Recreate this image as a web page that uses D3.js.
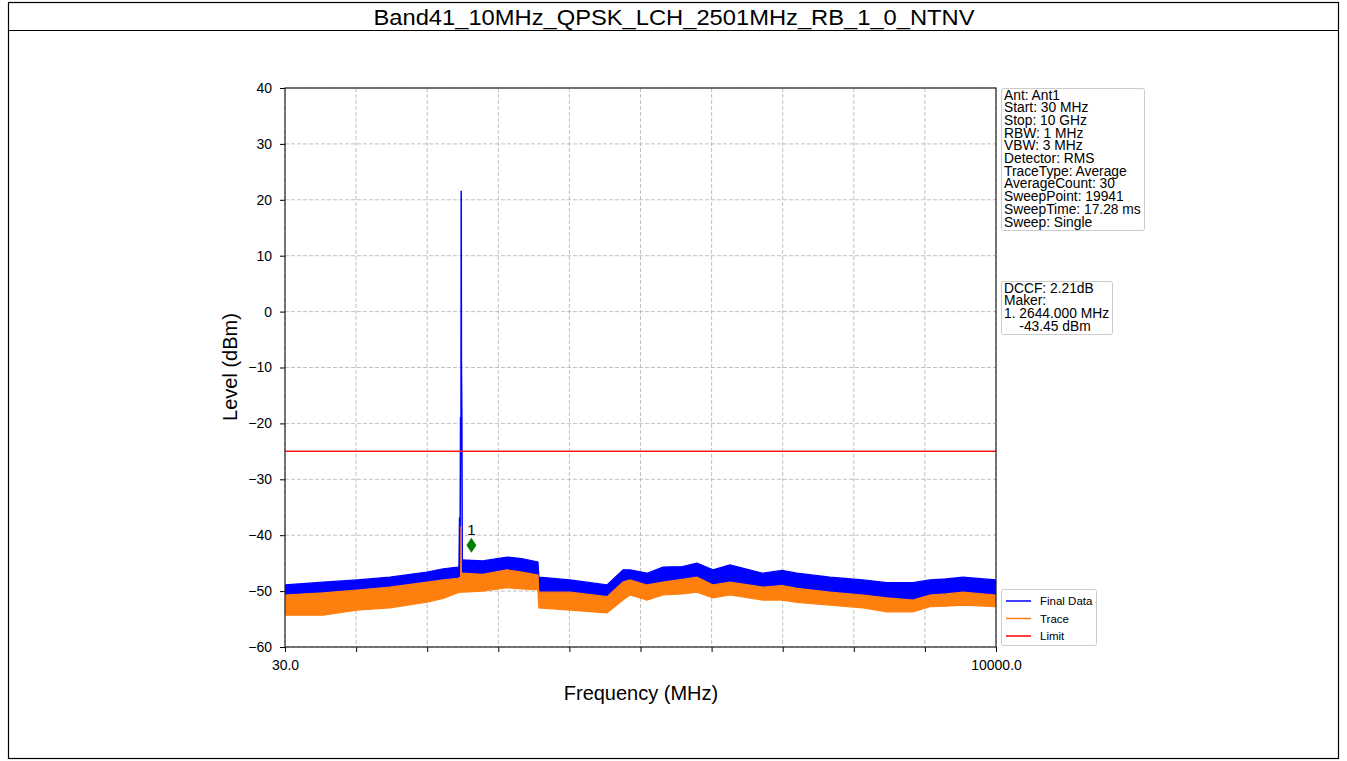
<!DOCTYPE html>
<html>
<head>
<meta charset="utf-8">
<script src="https://cdn.jsdelivr.net/npm/d3@7"></script>
<style>
  body { margin: 0; background: #fff; }
  svg { font-family: "Liberation Sans", Arial, sans-serif; }
</style>
</head>
<body>
<svg id="mainContainer"></svg>
<script>
/* global d3 */

var title = 'Band41_10MHz_QPSK_LCH_2501MHz_RB_1_0_NTNV';

// noise floor envelopes (MHz / dBm)
var freqs    = [30, 563, 1040, 1500, 2020, 2250, 2455, 2490, 2512, 2800, 3143, 3350, 3577, 3590, 4026, 4545, 4770, 4868, 5106, 5330, 5600, 5807, 6031, 6270, 6732, 7000, 7209, 7672, 8134, 8470, 8835, 9073, 9300, 9536, 10000];
var finalHi  = [-48.9, -48.4, -48.0, -47.5, -46.6, -46.0, -45.7, -45.5, -44.4, -44.6, -43.9, -44.2, -44.8, -47.5, -48.0, -48.9, -46.2, -46.2, -46.8, -45.7, -45.6, -45.0, -46.2, -45.3, -46.8, -46.3, -46.8, -47.5, -48.0, -48.5, -48.5, -48.0, -47.8, -47.5, -48.0];
var finalLo  = [-52.0, -51.6, -51.2, -50.6, -49.8, -49.2, -49.0, -48.8, -48.0, -48.2, -47.4, -47.8, -48.2, -51.4, -51.6, -52.2, -49.6, -49.2, -50.0, -49.6, -49.4, -48.8, -50.0, -49.6, -50.4, -50.2, -50.6, -51.4, -51.8, -52.4, -52.8, -51.8, -51.6, -51.4, -51.8];
var traceHi  = [-50.7, -50.3, -49.8, -49.3, -48.4, -48.0, -47.7, -47.5, -46.8, -47.0, -46.2, -46.6, -47.1, -50.2, -50.2, -51.0, -48.4, -48.0, -48.9, -48.4, -47.9, -47.5, -48.9, -48.4, -49.3, -49.0, -49.5, -50.2, -50.7, -51.2, -51.6, -50.7, -50.5, -50.2, -50.7];
var traceLo  = [-54.3, -54.3, -53.4, -53.0, -52.0, -51.3, -50.3, -50.2, -50.2, -50.0, -49.4, -49.6, -49.8, -53.0, -53.4, -53.9, -51.6, -50.7, -51.6, -50.7, -50.5, -50.2, -51.2, -50.7, -51.6, -51.6, -52.0, -52.5, -53.0, -53.7, -53.7, -52.8, -52.7, -52.5, -52.8];

// carrier spike around 2501 MHz
var spikeFreq  = [2470, 2478, 2484, 2492, 2498, 2501, 2504, 2510, 2516];
var spikeFinal = [-46.0, -36.8, -46.0, -19.0, -19.0, 21.6, -9.0, -19.0, -45.0];
var spikeTrace = [-48.0, -48.0, -48.0, -48.0, -38.5, -38.5, -47.0, -47.0, -47.0];

var limitLevel = -25;
var markerFreq = 2644;
var markerLevel = -41.8;

var yTicks = [-60, -50, -40, -30, -20, -10, 0, 10, 20, 30, 40];
var xTicks = [30, 1027, 2024, 3021, 4018, 5015, 6012, 7009, 8006, 9003, 10000];
var xTickLabels = ['30.0', '', '', '', '', '', '', '', '', '', '10000.0'];

var infoLines = ['Ant: Ant1', 'Start: 30 MHz', 'Stop: 10 GHz', 'RBW: 1 MHz', 'VBW: 3 MHz',
  'Detector: RMS', 'TraceType: Average', 'AverageCount: 30', 'SweepPoint: 19941',
  'SweepTime: 17.28 ms', 'Sweep: Single'];
var markerLines = ['DCCF: 2.21dB', 'Maker:', '1. 2644.000 MHz', '    -43.45 dBm'];
var legendNames = ['Final Data', 'Trace', 'Limit'];
var legendColors = ['#0000ff', '#ff7f0e', '#ff0000'];

var svgWidth = 1347;
var svgHeight = 761;
var plot = { left: 285, right: 996, top: 88, bottom: 647 };

var svg = d3.select('#mainContainer')
  .attr('width', svgWidth)
  .attr('height', svgHeight);

// outer frame + title bar
svg.append('rect').attr('x', 8.5).attr('y', 2.5).attr('width', 1330).attr('height', 756)
  .attr('fill', 'none').attr('stroke', '#000').attr('stroke-width', 1.2);
svg.append('line').attr('x1', 8.5).attr('x2', 1338.5).attr('y1', 30.5).attr('y2', 30.5)
  .attr('stroke', '#000').attr('stroke-width', 1.2);
svg.append('text').attr('x', 674).attr('y', 25).attr('text-anchor', 'middle')
  .attr('font-size', 22).attr('textLength', 601).attr('lengthAdjust', 'spacingAndGlyphs')
  .text(title);

var x = d3.scaleLinear().domain([30, 10000]).range([plot.left, plot.right]);
var y = d3.scaleLinear().domain([-60, 40]).range([plot.bottom, plot.top]);

var g = svg.append('g');

// grid
g.selectAll('.vgrid').data(xTicks).enter().append('line')
  .attr('x1', function(d){ return x(d); }).attr('x2', function(d){ return x(d); })
  .attr('y1', plot.top).attr('y2', plot.bottom)
  .attr('stroke', '#b0b0b0').attr('stroke-width', 0.8).attr('stroke-dasharray', '4,2');
g.selectAll('.hgrid').data(yTicks).enter().append('line')
  .attr('x1', plot.left).attr('x2', plot.right)
  .attr('y1', function(d){ return y(d); }).attr('y2', function(d){ return y(d); })
  .attr('stroke', '#b0b0b0').attr('stroke-width', 0.8).attr('stroke-dasharray', '4,2');

var pts = freqs.map(function(f, i){
  return { f: f, fh: finalHi[i], fl: finalLo[i], th: traceHi[i], tl: traceLo[i] };
});

var finalArea = d3.area().x(function(d){ return x(d.f); })
  .y0(function(d){ return y(d.fl); }).y1(function(d){ return y(d.fh); });
var traceArea = d3.area().x(function(d){ return x(d.f); })
  .y0(function(d){ return y(d.tl); }).y1(function(d){ return y(d.th); });

svg.append('clipPath').attr('id', 'clip').append('rect')
  .attr('x', plot.left).attr('y', plot.top)
  .attr('width', plot.right - plot.left).attr('height', plot.bottom - plot.top);

var data = g.append('g').attr('clip-path', 'url(#clip)');

data.append('path').datum(pts).attr('d', finalArea)
  .attr('fill', '#0000ff').attr('stroke', '#0000ff').attr('stroke-width', 1.2);

var spikeLine = d3.line().x(function(d){ return x(d[0]); }).y(function(d){ return y(d[1]); });
data.append('path').datum(d3.zip(spikeFreq, spikeFinal)).attr('d', spikeLine)
  .attr('fill', 'none').attr('stroke', '#0000ff').attr('stroke-width', 1.5);

data.append('path').datum(pts).attr('d', traceArea)
  .attr('fill', '#ff7f0e').attr('stroke', '#ff7f0e').attr('stroke-width', 1.2);
data.append('path').datum(d3.zip(spikeFreq, spikeTrace)).attr('d', spikeLine)
  .attr('fill', 'none').attr('stroke', '#ff7f0e').attr('stroke-width', 1.2);

// limit line
svg.append('line').attr('x1', plot.left).attr('x2', plot.right)
  .attr('y1', y(limitLevel)).attr('y2', y(limitLevel))
  .attr('stroke', '#ff1a1a').attr('stroke-width', 1.5);

// marker
var mx = x(markerFreq), my = y(markerLevel);
data.append('path')
  .attr('d', 'M' + mx + ',' + (my - 7.5) + 'L' + (mx + 5) + ',' + my + 'L' + mx + ',' + (my + 7.5) + 'L' + (mx - 5) + ',' + my + 'Z')
  .attr('fill', '#008000');
svg.append('text').attr('x', mx).attr('y', my - 10)
  .attr('text-anchor', 'middle').attr('font-size', 15).text('1');

// axes
var xAxis = d3.axisBottom(x).tickValues(xTicks).tickSize(5).tickPadding(8)
  .tickFormat(function(d, i){ return xTickLabels[i]; });
var yAxis = d3.axisLeft(y).tickValues(yTicks).tickSize(5).tickPadding(8)
  .tickFormat(function(d){ return d < 0 ? '\u2212' + Math.abs(d) : d; });

var gx = svg.append('g').attr('transform', 'translate(0,' + plot.bottom + ')').call(xAxis);
var gy = svg.append('g').attr('transform', 'translate(' + plot.left + ',0)').call(yAxis);
[gx, gy].forEach(function(a){
  a.select('.domain').remove();
  a.selectAll('text').attr('font-size', 14).attr('font-family', '"Liberation Sans", Arial, sans-serif').attr('fill', '#000');
  a.selectAll('line').attr('stroke', '#000').attr('stroke-width', 1);
});

svg.append('rect').attr('x', plot.left).attr('y', plot.top)
  .attr('width', plot.right - plot.left).attr('height', plot.bottom - plot.top)
  .attr('fill', 'none').attr('stroke', '#222').attr('stroke-width', 1.2);

svg.append('text').attr('x', 641).attr('y', 700).attr('text-anchor', 'middle')
  .attr('font-size', 20).text('Frequency (MHz)');
svg.append('text').attr('transform', 'translate(237,367) rotate(-90)').attr('text-anchor', 'middle')
  .attr('font-size', 20).text('Level (dBm)');

// info boxes
function textBox(lines, bx, by, bw, bh, lineH, fs, pad){
  var box = svg.append('g');
  box.append('rect').attr('x', bx).attr('y', by).attr('width', bw).attr('height', bh)
    .attr('rx', 2).attr('fill', '#fff').attr('stroke', '#cccccc').attr('stroke-width', 1);
  box.selectAll('text').data(lines).enter().append('text')
    .attr('x', bx + pad).attr('y', function(d, i){ return by + 11 + i * lineH; })
    .attr('font-size', fs)
    .style('white-space', 'pre')
    .text(function(d){ return d; });
}
textBox(infoLines, 1001.5, 88.5, 143, 142, 12.7, 13.8, 2.5);
textBox(markerLines, 1001.5, 281.5, 111, 53, 12.7, 13.8, 2.5);

// legend
var legend = svg.append('g');
legend.append('rect').attr('x', 1001.5).attr('y', 589.5).attr('width', 95).attr('height', 56)
  .attr('rx', 2).attr('fill', '#fff').attr('stroke', '#cccccc');
legendNames.forEach(function(name, i){
  var ly = 601 + i * 17.5;
  legend.append('line').attr('x1', 1006).attr('x2', 1031).attr('y1', ly).attr('y2', ly)
    .attr('stroke', legendColors[i]).attr('stroke-width', 1.5);
  legend.append('text').attr('x', 1040).attr('y', ly + 4).attr('font-size', 11.5).text(name);
});
</script>
</body>
</html>
